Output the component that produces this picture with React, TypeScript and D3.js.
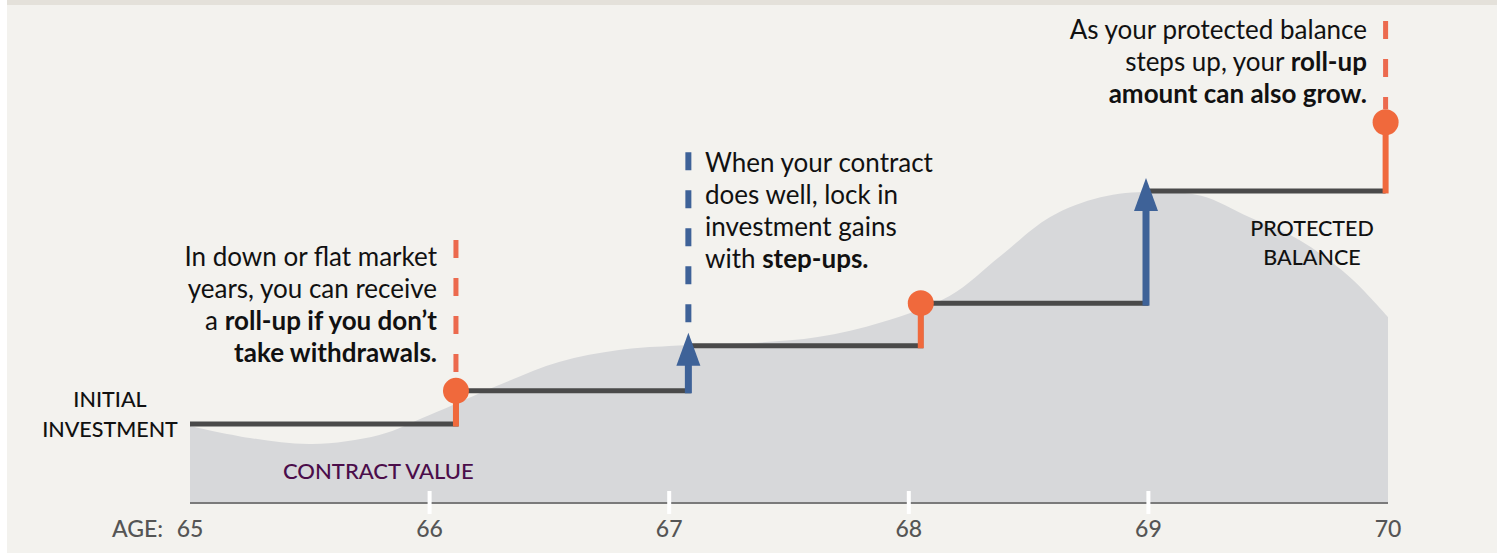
import React from 'react'
import * as d3 from 'd3'

// ages on the x axis
const AGES = [65, 66, 67, 68, 69, 70]

// contract value (market) curve, 100 = initial investment
const CONTRACT_AGES = [65, 65.25, 65.51, 65.79, 66, 66.29, 66.54, 66.79, 67, 67.34, 67.62, 67.89, 68.17, 68.38, 68.59, 68.8, 69.01, 69.22, 69.42, 69.63, 69.84, 70]
const CONTRACT_VALUES = [97.5, 82.3, 74.7, 86.1, 111.4, 149.4, 178.5, 193.7, 198.7, 202.5, 210, 229, 262, 312, 362, 387, 394, 389, 362, 332.9, 286.1, 235.4]

// protected balance steps
const STEP_AGES = [65, 66.11, 67.08, 68.05, 68.99, 69.99]
const BALANCE_LEVELS = [100, 142, 199, 253, 395, 482]
const EVENT_TYPES = ['roll-up', 'step-up', 'roll-up', 'step-up', 'roll-up']

// dashed guides above annotated events: [event index, top value]
const GUIDES: [number, number][] = [[0, 333], [1, 444], [4, 610]]

const ORANGE = '#f0693c'
const ORANGE_DASH = '#ec6a4e'
const BLUE = '#3e6298'
const STEP = '#4a4a4a'
const FONT = 'Lato, "Noto Sans", sans-serif'

type Seg = [string, boolean]
const NOTE_ROLLUP: Seg[][] = [
  [['In down or flat market', false]],
  [['years, you can receive', false]],
  [['a ', false], ['roll-up if you don\u2019t', true]],
  [['take withdrawals.', true]],
]
const NOTE_STEPUP: Seg[][] = [
  [['When your contract', false]],
  [['does well, lock in', false]],
  [['investment gains', false]],
  [['with ', false], ['step-ups.', true]],
]
const NOTE_GROW: Seg[][] = [
  [['As your protected balance', false]],
  [['steps up, your ', false], ['roll-up', true]],
  [['amount can also grow.', true]],
]

function Note({ lines, x, y, anchor }: { lines: Seg[][]; x: number; y: number; anchor: 'start' | 'end' }) {
  return (
    <g>
      {lines.map((line, i) => (
        <text key={i} x={x} y={y + i * 32} textAnchor={anchor} fontSize={26} fill="#111" fontFamily={FONT}>
          {line.map(([t, b], j) => (
            <tspan key={j} fontWeight={b ? 700 : 400}>{t}</tspan>
          ))}
        </text>
      ))}
    </g>
  )
}

export default function App() {
  const W = 1497
  const H = 554
  const x = d3.scaleLinear().domain([65, 70]).range([190, 1388])
  const y = d3.scaleLinear().domain([0, 100]).range([503, 424])

  const area = d3.area<number>()
    .x((_, i) => x(CONTRACT_AGES[i]))
    .y0(y(0))
    .y1(d => y(d))
    .curve(d3.curveCatmullRom.alpha(0.5))

  const stepPts: [number, number][] = []
  for (let i = 0; i < 5; i++) {
    stepPts.push([x(STEP_AGES[i]), y(BALANCE_LEVELS[i])])
    stepPts.push([x(STEP_AGES[i + 1]), y(BALANCE_LEVELS[i])])
  }
  const stepLine = d3.line()(stepPts) || ''

  return (
    <svg width={W} height={H} style={{ position: 'absolute', left: 0, top: 0, background: '#fff' }}>
      <rect x={7} y={0} width={W - 7} height={553} fill="#f3f2ee" />
      <rect x={7} y={0} width={W - 7} height={5} fill="#e4e1da" />

      <path d={area(CONTRACT_VALUES) || ''} fill="#d7d8da" />
      <line x1={x(65)} x2={x(70)} y1={y(0)} y2={y(0)} stroke="#7a7a7a" strokeWidth={2} />
      {AGES.slice(1, -1).map(a => (
        <rect key={a} x={x(a) - 2} y={y(0) - 12} width={4} height={23} fill="#fff" />
      ))}

      {/* dashed guides */}
      {GUIDES.map(([e, top]) => {
        const type = EVENT_TYPES[e]
        const lvl = BALANCE_LEVELS[e + 1]
        const bottom = type === 'roll-up' ? y(lvl) - 13 : y(lvl) - 19
        return (
          <line key={e} x1={x(STEP_AGES[e + 1])} x2={x(STEP_AGES[e + 1])} y1={y(top)} y2={bottom}
            stroke={type === 'roll-up' ? ORANGE_DASH : BLUE} strokeWidth={type === 'roll-up' ? 5 : 6}
            strokeDasharray="18 20" />
        )
      })}

      <path d={stepLine} fill="none" stroke={STEP} strokeWidth={5} />

      {/* events */}
      {EVENT_TYPES.map((type, i) => {
        const ex = x(STEP_AGES[i + 1])
        const y0 = y(BALANCE_LEVELS[i])
        const y1 = y(BALANCE_LEVELS[i + 1])
        if (type === 'roll-up') {
          return (
            <g key={i}>
              <line x1={ex} x2={ex} y1={y0 + 2.5} y2={y1} stroke={ORANGE} strokeWidth={6} />
              <circle cx={ex} cy={y1} r={13} fill={ORANGE} />
            </g>
          )
        }
        const tip = y1 - 13
        return (
          <g key={i}>
            <line x1={ex} x2={ex} y1={y0 + 2.5} y2={tip + 30} stroke={BLUE} strokeWidth={7} />
            <path d={`M${ex},${tip} L${ex + 12},${tip + 33} L${ex - 12},${tip + 33} Z`} fill={BLUE} />
          </g>
        )
      })}

      {/* labels */}
      <g fontFamily={FONT} fontSize={21.5} fontWeight={500} fill="#111" textAnchor="middle">
        <text x={110} y={407}>INITIAL</text>
        <text x={110} y={437}>INVESTMENT</text>
        <text x={1312} y={236}>PROTECTED</text>
        <text x={1312} y={265}>BALANCE</text>
      </g>
      <text x={283} y={479} fontFamily={FONT} fontSize={22} fontWeight={500} fill="#4b0d4a">CONTRACT VALUE</text>

      <Note lines={NOTE_ROLLUP} x={437} y={266} anchor="end" />
      <Note lines={NOTE_STEPUP} x={705} y={172} anchor="start" />
      <Note lines={NOTE_GROW} x={1367} y={39} anchor="end" />

      {/* age axis labels */}
      <g fontFamily={FONT} fontSize={23} fontWeight={500} fill="#555">
        <text x={163} y={537} textAnchor="end">AGE:</text>
        {AGES.map(a => (
          <text key={a} x={x(a)} y={537} textAnchor="middle">{a}</text>
        ))}
      </g>
    </svg>
  )
}
